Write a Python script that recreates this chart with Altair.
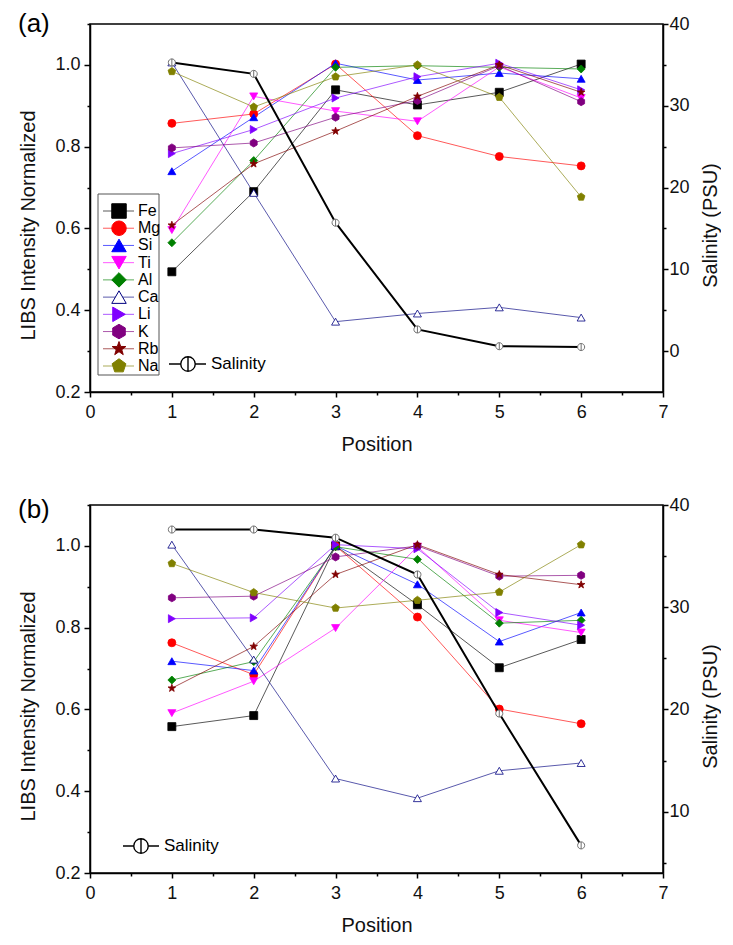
import altair as alt
import pandas as pd

FONT = "Liberation Sans"

positions = [1, 2, 3, 4, 5, 6]
elements = ["Fe", "Mg", "Si", "Ti", "Al", "Ca", "Li", "K", "Rb", "Na"]

# ---- panel (a) ----
fe_a = [0.494, 0.690, 0.939, 0.902, 0.933, 1.002]
mg_a = [0.857, 0.880, 1.002, 0.827, 0.776, 0.753]
si_a = [0.740, 0.872, 1.004, 0.963, 0.980, 0.966]
ti_a = [0.596, 0.923, 0.887, 0.862, 0.995, 0.919]
al_a = [0.565, 0.766, 0.994, 0.998, 0.994, 0.990]
ca_a = [1.006, 0.687, 0.372, 0.392, 0.407, 0.382]
li_a = [0.783, 0.842, 0.919, 0.971, 1.004, 0.939]
k_a = [0.797, 0.809, 0.872, 0.913, 0.998, 0.910]
rb_a = [0.608, 0.758, 0.838, 0.923, 1.000, 0.933]
na_a = [0.984, 0.897, 0.971, 1.000, 0.921, 0.677]
sal_a = [35.3, 33.9, 15.7, 2.65, 0.6, 0.5]

# ---- panel (b) ----
fe_b = [0.558, 0.585, 1.000, 0.856, 0.702, 0.771]
mg_b = [0.763, 0.685, 1.000, 0.826, 0.601, 0.565]
si_b = [0.718, 0.695, 1.000, 0.906, 0.766, 0.837]
ti_b = [0.591, 0.669, 0.799, 0.998, 0.818, 0.788]
al_b = [0.672, 0.717, 0.998, 0.967, 0.811, 0.818]
ca_b = [1.003, 0.722, 0.431, 0.383, 0.450, 0.469]
li_b = [0.822, 0.824, 1.003, 0.993, 0.837, 0.806]
k_b = [0.873, 0.877, 0.973, 1.000, 0.926, 0.928]
rb_b = [0.652, 0.754, 0.930, 1.003, 0.930, 0.905]
na_b = [0.957, 0.886, 0.848, 0.867, 0.887, 1.003]
sal_b = [37.6, 37.6, 36.8, 33.2, 19.6, 6.7]

x_major = [0, 1, 2, 3, 4, 5, 6, 7]
x_minor = [0.5, 1.5, 2.5, 3.5, 4.5, 5.5, 6.5]
y_major = [0.2, 0.4, 0.6, 0.8, 1.0]
y_minor = [0.3, 0.5, 0.7, 0.9, 1.1]

colors = ["#000000", "#FF0000", "#0000FF", "#FF00FF", "#008000",
          "#000080", "#8000FF", "#800080", "#800000", "#808000"]
fills = ["#000000", "#FF0000", "#0000FF", "#FF00FF", "#008000",
         "#FFFFFF", "#8000FF", "#800080", "#800000", "#808000"]

STAR = ("M0,-1L0.235,-0.324L0.951,-0.309L0.380,0.124L0.588,0.809L0,0.4"
        "L-0.588,0.809L-0.380,0.124L-0.951,-0.309L-0.235,-0.324Z")
PENT = "M0,-1L0.951,-0.309L0.588,0.809L-0.588,0.809L-0.951,-0.309Z"
HEX = "M0,-1L0.866,-0.5L0.866,0.5L0,1L-0.866,0.5L-0.866,-0.5Z"
SAL = "M-1,0A1,1,0,1,1,1,0A1,1,0,1,1,-1,0ZM0,-1L0,1"
shapes = ["square", "circle", "triangle-up", "triangle-down", "diamond",
          "triangle-up", "triangle-right", HEX, STAR, PENT]

W, H = 573, 368

col_sc = alt.Scale(domain=elements, range=colors)
fill_sc = alt.Scale(domain=elements, range=fills)
shape_sc = alt.Scale(domain=elements, range=shapes)


def panel(vals, sal, sal_dom, sal_major, sal_minor, tag, tag_dy, full_legend, sal_leg):
    rows = []
    for el, v in zip(elements, vals):
        for p, y in zip(positions, v):
            rows.append({"pos": p, "val": y, "element": el})
    df = pd.DataFrame(rows)
    sdf = pd.DataFrame({"pos": positions, "sal": sal})

    xsc = alt.Scale(domain=[0, 7], nice=False, zero=False)
    ysc = alt.Scale(domain=[0.2, 1.1], nice=False, zero=False)
    rsc = alt.Scale(domain=sal_dom, nice=False, zero=False)

    x_main = alt.X("pos:Q", scale=xsc, axis=alt.Axis(
        orient="bottom", values=x_major, format="d", title="Position",
        tickSize=5, labelPadding=6, titlePadding=13, labelFlush=False,
        labelOverlap=False, grid=False))
    x_none = alt.X("pos:Q", scale=xsc, axis=None)
    y_main = alt.Y("val:Q", scale=ysc, axis=alt.Axis(
        orient="left", values=y_major, format=".1f",
        title="LIBS Intensity Normalized", tickSize=6, labelPadding=4,
        titlePadding=16, titleY=201, labelFlush=False, labelOverlap=False,
        grid=False))
    y_none = alt.Y("val:Q", scale=ysc, axis=None)

    lines = alt.Chart(df).mark_line(strokeWidth=1, opacity=0.65).encode(
        x=x_main, y=y_main,
        color=alt.Color("element:N", scale=col_sc, legend=None),
        detail="element:N")
    pts = alt.Chart(df).mark_point(size=64, opacity=1, strokeWidth=0.8).encode(
        x=x_none, y=y_none,
        shape=alt.Shape("element:N", scale=shape_sc, legend=None),
        fill=alt.Fill("element:N", scale=fill_sc, legend=None),
        stroke=alt.Stroke("element:N", scale=col_sc, legend=None))

    sal_line = alt.Chart(sdf).mark_line(color="black", strokeWidth=2).encode(
        x=x_none,
        y=alt.Y("sal:Q", scale=rsc, axis=alt.Axis(
            orient="right", values=sal_major, format="d",
            title="Salinity (PSU)", titleAngle=270, titleBaseline="top",
            titleY=201, tickSize=5, labelPadding=1, titlePadding=11,
            labelFlush=False, labelOverlap=False, grid=False)))
    sal_pts = alt.Chart(sdf).mark_point(
        shape=SAL, size=50, fill="white", stroke="#707070", strokeWidth=1,
        opacity=1).encode(x=x_none, y=alt.Y("sal:Q", scale=rsc, axis=None))

    mx = alt.Chart(pd.DataFrame({"mx": x_minor})).mark_point(opacity=0).encode(
        x=alt.X("mx:Q", scale=xsc, axis=alt.Axis(
            orient="bottom", values=x_minor, labels=False, domain=False,
            tickSize=3, grid=False, title=None)))
    my = alt.Chart(pd.DataFrame({"my": y_minor})).mark_point(opacity=0).encode(
        y=alt.Y("my:Q", scale=ysc, axis=alt.Axis(
            orient="left", values=y_minor, labels=False, domain=False,
            tickSize=3, grid=False, title=None)))
    mr = alt.Chart(pd.DataFrame({"mr": sal_minor})).mark_point(opacity=0).encode(
        y=alt.Y("mr:Q", scale=rsc, axis=alt.Axis(
            orient="right", values=sal_minor, labels=False, domain=False,
            tickSize=3, grid=False, title=None)))

    one = pd.DataFrame({"t": [tag]})
    tag_txt = alt.Chart(one).mark_text(
        align="left", baseline="top", fontSize=26, font=FONT, color="black"
    ).encode(text="t:N", x=alt.value(-72), y=alt.value(tag_dy))

    lx0, lx1, lcx, ltx, ly = sal_leg
    sone = pd.DataFrame({"t": ["Salinity"]})
    sl_line = alt.Chart(sone).mark_rule(color="black", strokeWidth=1.5).encode(
        x=alt.value(lx0), x2=alt.value(lx1), y=alt.value(ly))
    sl_pt = alt.Chart(sone).mark_point(
        shape=SAL, size=210, fill="white", stroke="black", strokeWidth=1.4,
        opacity=1).encode(x=alt.value(lcx), y=alt.value(ly))
    sl_txt = alt.Chart(sone).mark_text(
        align="left", baseline="middle", fontSize=17, font=FONT, color="black"
    ).encode(text="t:N", x=alt.value(ltx), y=alt.value(ly))

    layers = [lines, pts, sal_line, sal_pts, mx, my, mr, tag_txt,
              sl_line, sl_pt, sl_txt]

    if full_legend:
        ldf = pd.DataFrame({"element": elements})
        lsc = alt.Scale(type="point", domain=elements, range=[187, 342], padding=0)
        box = alt.Chart(one).mark_rect(
            fill="white", stroke="#555555", strokeWidth=1).encode(
            x=alt.value(8), x2=alt.value(69), y=alt.value(170), y2=alt.value(351))
        l_lines = alt.Chart(ldf).mark_rule(strokeWidth=1, opacity=0.65).encode(
            x=alt.value(13), x2=alt.value(44),
            y=alt.Y("element:N", scale=lsc, axis=None),
            color=alt.Color("element:N", scale=col_sc, legend=None))
        l_pts = alt.Chart(ldf).mark_point(size=210, opacity=1, strokeWidth=1).encode(
            x=alt.value(29),
            y=alt.Y("element:N", scale=lsc, axis=None),
            shape=alt.Shape("element:N", scale=shape_sc, legend=None),
            fill=alt.Fill("element:N", scale=fill_sc, legend=None),
            stroke=alt.Stroke("element:N", scale=col_sc, legend=None))
        l_txt = alt.Chart(ldf).mark_text(
            align="left", baseline="middle", fontSize=16, font=FONT, color="black"
        ).encode(text="element:N", x=alt.value(48),
                 y=alt.Y("element:N", scale=lsc, axis=None))
        layers += [box, l_lines, l_pts, l_txt]

    return alt.layer(*layers).resolve_scale(y="independent").resolve_axis(
        x="independent", y="independent").properties(width=W, height=H)


pa = panel([fe_a, mg_a, si_a, ti_a, al_a, ca_a, li_a, k_a, rb_a, na_a], sal_a,
           [-5, 40], [0, 10, 20, 30, 40], [5, 15, 25, 35], "(a)", -13, True,
           (79, 116, 98, 121, 340))
pb = panel([fe_b, mg_b, si_b, ti_b, al_b, ca_b, li_b, k_b, rb_b, na_b], sal_b,
           [4, 40], [10, 20, 30, 40], [5, 15, 25, 35], "(b)", -8, False,
           (33, 69, 51, 74, 341))

chart = alt.vconcat(pa, pb, spacing=40).properties(
    padding={"left": 17, "top": 10, "right": 0, "bottom": 0}
).configure(background="white").configure_view(
    stroke="black", strokeWidth=1.5
).configure_axis(
    labelFont=FONT, titleFont=FONT, labelFontSize=18, titleFontSize=20,
    labelColor="#111111", titleColor="#111111", titleFontWeight="normal",
    domainColor="black", tickColor="black", domainWidth=1.5, tickWidth=1.5
)

chart.save("out.html", embed_options={"renderer": "svg", "actions": False})
